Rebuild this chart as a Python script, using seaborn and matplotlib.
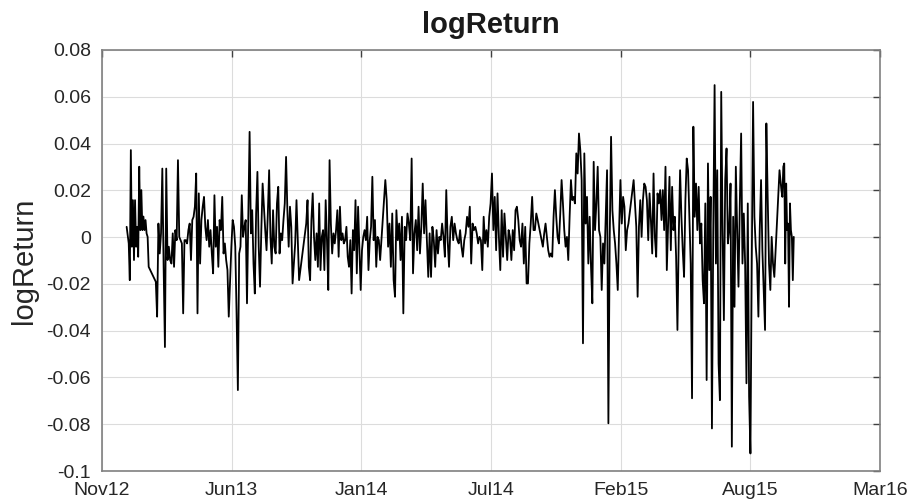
"""Daily log returns, MATLAB-style line chart."""

import matplotlib

matplotlib.use("Agg")
import matplotlib.dates as mdates
import matplotlib.pyplot as plt
import pandas as pd
import seaborn as sns

# trading segments (start, end) split at the holiday breaks
seg_dates = [
    ("2013-01-04", "2013-02-07"),
    ("2013-02-18", "2013-09-27"),
    ("2013-10-08", "2014-01-30"),
    ("2014-02-07", "2014-09-30"),
    ("2014-10-08", "2015-02-17"),
    ("2015-02-25", "2015-09-30"),
    ("2015-10-08", "2015-10-30"),
]

ret_2013a = [
    0.0044, 0.0009, -0.0027, -0.0184, 0.0372, -0.0041, 0.0158, -0.0098, 0.0158, -0.0041,
    0.0044, -0.0084, 0.0301, 0.0030, 0.0201, 0.0030, 0.0088, 0.0030, 0.0073, 0.0016,
    0.0001, -0.0127,
]
ret_2013b = [
    -0.0191, -0.0340, 0.0058, -0.0070, 0.0016, 0.0293, -0.0127, -0.0470, 0.0293, -0.0098,
    -0.0041, -0.0098, -0.0113, 0.0016, -0.0127, 0.0030, -0.0013, 0.0329, 0.0001, -0.0013,
    -0.0027, -0.0326, -0.0013, -0.0013, -0.0027, 0.0030, 0.0058, -0.0098, 0.0073, 0.0087,
    0.0130, 0.0272, -0.0326, 0.0187, -0.0113, 0.0073, 0.0130, 0.0172, 0.0044, -0.0013,
    0.0073, -0.0041,
    0.0030, -0.0070, -0.0155, 0.0179, -0.0041, 0.0044, -0.0127, 0.0073, 0.0030, 0.0172,
    -0.0070, -0.0027, -0.0098, -0.0141, -0.0340, -0.0184, -0.0041, 0.0073, 0.0044, -0.0041,
    -0.0326, -0.0654, -0.0070, -0.0041, 0.0179, 0.0001, 0.0044, 0.0073, -0.0283, 0.0073,
    0.0450, 0.0016, 0.0115, -0.0113, -0.0241, 0.0101, 0.0279, -0.0041, -0.0212, 0.0030,
    0.0229, 0.0130, 0.0030, -0.0056, 0.0101, 0.0286, 0.0001, -0.0113, 0.0115, -0.0041,
    -0.0070, 0.0144, 0.0215, -0.0070, 0.0016, -0.0013, 0.0073, 0.0144, 0.0343, 0.0115,
    -0.0041, 0.0130, 0.0044, -0.0198, -0.0113, -0.0027, 0.0158, -0.0013, -0.0184,
]
ret_2013c = [
    0.0058, 0.0158, -0.0127, -0.0184, 0.0073, 0.0187, 0.0001, -0.0098, 0.0016, -0.0127,
    0.0144, -0.0141, 0.0001, 0.0030, -0.0141, 0.0158, -0.0013, -0.0226, 0.0329, 0.0058,
    -0.0070, 0.0016, -0.0027, 0.0030, 0.0115, -0.0084, 0.0130, -0.0013, 0.0016, -0.0027,
    -0.0013, 0.0044, -0.0084, -0.0127, -0.0013, -0.0241, 0.0030, -0.0056, 0.0158, -0.0155,
    0.0130, -0.0041, -0.0226, -0.0056, 0.0001, 0.0030, -0.0013, 0.0087, -0.0141, -0.0013,
    0.0044, 0.0258, -0.0013, 0.0073, -0.0127, 0.0001, -0.0013, -0.0098,
]
ret_2014a = [
    0.0244, 0.0158, -0.0041, 0.0058, -0.0127, 0.0101, -0.0184, -0.0255, 0.0115, -0.0013,
    0.0058, -0.0098, 0.0087, -0.0326, 0.0044, -0.0013, 0.0101, 0.0058, -0.0013, 0.0336,
    -0.0155, 0.0016, 0.0073, -0.0056, 0.0130, -0.0070, 0.0044, 0.0229, 0.0016, 0.0158,
    -0.0013, -0.0170, 0.0016, -0.0170, 0.0044, -0.0013, -0.0127, 0.0030, -0.0070, 0.0001,
    -0.0013, 0.0058, 0.0001, -0.0084, 0.0201, -0.0013, -0.0127, 0.0044, 0.0087, -0.0013,
    0.0058, 0.0016, -0.0013, -0.0027, 0.0030, -0.0041, -0.0084, -0.0013, 0.0016, 0.0087,
    0.0044, 0.0130,
    -0.0113, 0.0058, 0.0030, 0.0044, 0.0016, -0.0027, 0.0001, -0.0013, -0.0141, 0.0087,
    -0.0027, 0.0030, -0.0041, 0.0087, 0.0144, 0.0272, 0.0030, 0.0172, -0.0056, 0.0187,
    0.0001, -0.0141, 0.0115, -0.0084, 0.0101, 0.0001, -0.0098, 0.0030, 0.0001, -0.0098,
    0.0030, -0.0056, 0.0115, 0.0130, 0.0073, -0.0013, -0.0041, 0.0058, -0.0113, 0.0044,
    -0.0198, -0.0198, -0.0027, 0.0058, 0.0172, 0.0030, 0.0030, 0.0101, 0.0073,
]
ret_2014b = [
    -0.0041, 0.0016, 0.0058, 0.0001, -0.0056, -0.0084, -0.0070, -0.0084, 0.0087, 0.0201,
    0.0087, 0.0001, -0.0027, 0.0101, 0.0244, 0.0144, 0.0030, -0.0041, 0.0001, -0.0098,
    0.0087, 0.0244, 0.0158, 0.0172, 0.0144, 0.0358, 0.0272, 0.0443, 0.0372, 0.0244,
    -0.0454, 0.0358, 0.0058, 0.0172, -0.0113, 0.0087, -0.0127, -0.0283, 0.0322, 0.0030,
    0.0144, 0.0301, 0.0030, 0.0001, -0.0226, -0.0027, -0.0113, 0.0087, 0.0286, -0.0796,
    0.0001, 0.0429, 0.0115, 0.0030, -0.0027, -0.0113, -0.0226, 0.0030, 0.0244, 0.0058,
    0.0172, 0.0130, -0.0056, 0.0030, 0.0058,
]
ret_2015a = [
    0.0244, 0.0144, 0.0044, -0.0255, 0.0044, 0.0158, 0.0001, 0.0158, 0.0229, 0.0215,
    0.0158, -0.0013, 0.0187, 0.0073, -0.0070, 0.0272, 0.0001, -0.0084, 0.0187, 0.0144,
    0.0201, 0.0073, 0.0201, 0.0030, 0.0301, -0.0141, 0.0058, 0.0258, -0.0056, 0.0215,
    0.0030, 0.0087, -0.0084, -0.0397, 0.0001, 0.0286, 0.0087, -0.0056, -0.0170, 0.0158,
    0.0336, 0.0286, 0.0087, -0.0113, -0.0689, 0.0472, 0.0087, 0.0229, 0.0030, 0.0215,
    -0.0027, 0.0058, -0.0184, -0.0283, 0.0144, -0.0611, 0.0315, -0.0141, 0.0172, -0.0818,
    0.0030, 0.0650, -0.0113, 0.0286, -0.0540, -0.0697, 0.0621, 0.0030, -0.0355, 0.0244,
    0.0379, -0.0027, 0.0030, 0.0229, -0.0896, 0.0087, -0.0298, 0.0301, 0.0030, -0.0212,
    0.0144, 0.0443, -0.0113, 0.0101, -0.0113, -0.0625, 0.0144, -0.0681, -0.0925, -0.0113,
    0.0578, 0.0087, -0.0041, -0.0113, -0.0340, 0.0030, 0.0244, -0.0056, -0.0226, -0.0397,
    0.0486, 0.0172, -0.0113, -0.0226, 0.0001, -0.0113, -0.0170,
]
ret_2015b = [
    0.0286, 0.0244, 0.0201, 0.0172, 0.0301, 0.0315, -0.0113, 0.0229, 0.0030, 0.0058,
    -0.0298, 0.0144, 0.0030, 0.0001, -0.0184, 0.0001,
]
segments = [ret_2013a, ret_2013b, ret_2013c, ret_2014a, ret_2014b, ret_2015a, ret_2015b]

tick_start = "2012-11-27"  # datenum 735200, ticks every 200 days
y_ticks = [0.08, 0.06, 0.04, 0.02, 0, -0.02, -0.04, -0.06, -0.08, -0.1]
y_labels = ["0.08", "0.06", "0.04", "0.02", "0", "-0.02", "-0.04", "-0.06", "-0.08", "-0.1"]


def main() -> None:
    parts = []
    for (start, end), vals in zip(seg_dates, segments):
        d = pd.date_range(start, end, periods=len(vals))
        parts.append(pd.DataFrame({"date": d, "logReturn": vals}))
    df = pd.concat(parts, ignore_index=True)

    sns.set_style("white")
    plt.rcParams["font.family"] = ["Liberation Sans", "DejaVu Sans"]

    fig = plt.figure(figsize=(9.14, 5.03), dpi=100)
    ax = fig.add_axes([0.1116, 0.0636, 0.8512, 0.8370])
    sns.lineplot(data=df, x="date", y="logReturn", color="black",
                 linewidth=1.3, estimator=None, ax=ax)

    ticks = pd.date_range(tick_start, periods=7, freq="200D")
    ax.set_xlim(ticks[0], ticks[-1])
    ax.set_xticks(ticks)
    ax.xaxis.set_major_formatter(mdates.DateFormatter("%b%y"))
    ax.set_ylim(-0.1, 0.08)
    ax.set_yticks(y_ticks)
    ax.set_yticklabels(y_labels)

    ax.grid(True, color="#dcdcdc", linewidth=0.8)
    for s in ax.spines.values():
        s.set_color("#808080")
        s.set_linewidth(1.2)
    ax.tick_params(direction="in", length=5, width=1, color="#404040",
                   labelsize=14, labelcolor="#262626",
                   top=True, right=True)
    ax.tick_params(axis="x", pad=8)
    ax.tick_params(axis="y", pad=8)

    ax.set_xlabel("")
    ax.set_ylabel("logReturn", fontsize=21, color="#262626", labelpad=6)
    ax.set_title("logReturn", fontsize=21, fontweight="bold", color="#1a1a1a", pad=12)

    fig.savefig("out.png", dpi=100)


if __name__ == "__main__":
    main()
